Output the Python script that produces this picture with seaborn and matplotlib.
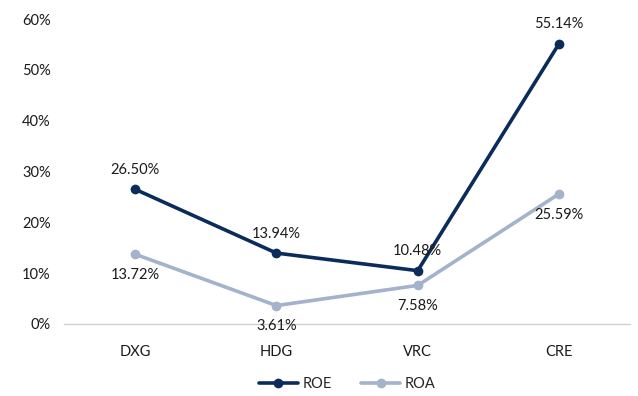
import seaborn as sns
import pandas as pd
import matplotlib.pyplot as plt
from matplotlib.ticker import PercentFormatter

companies = ["DXG", "HDG", "VRC", "CRE"]
roe = [26.50, 13.94, 10.48, 55.14]
roa = [13.72, 3.61, 7.58, 25.59]

colors = {"ROE": "#0b2c5a", "ROA": "#a3b3cb"}

sns.set_style("white")
plt.rcParams['font.family'] = ['Lato', 'DejaVu Sans']

df = pd.DataFrame({
    "company": companies * 2,
    "value": roe + roa,
    "metric": ["ROE"] * len(companies) + ["ROA"] * len(companies),
})

fig = plt.figure(figsize=(6.38, 3.96), dpi=100)
ax = fig.add_axes([0.101, 0.182, 0.886, 0.77])

sns.lineplot(data=df, x="company", y="value", hue="metric", palette=colors,
             marker="o", markersize=7, markeredgewidth=0, linewidth=2.6,
             sort=False, ax=ax)

# data labels: ROE above, ROA below
for i, v in enumerate(roe):
    ax.annotate(f"{v:.2f}%", (i, v), xytext=(0, 9), textcoords="offset points",
                ha="center", va="bottom", fontsize=10.5, color="#1a1a1a")
for i, v in enumerate(roa):
    ax.annotate(f"{v:.2f}%", (i, v), xytext=(0, -10), textcoords="offset points",
                ha="center", va="top", fontsize=10.5, color="#1a1a1a")

ax.set_xlim(-0.5, len(companies) - 0.5)
ax.set_ylim(0, 60)
ax.set_yticks(range(0, 61, 10))
ax.yaxis.set_major_formatter(PercentFormatter(decimals=0))
ax.set_xlabel("")
ax.set_ylabel("")
ax.tick_params(axis="both", labelsize=10.5, colors="#1a1a1a", length=0)
ax.tick_params(axis="x", pad=15)
ax.tick_params(axis="y", pad=10)

for side in ["top", "right", "left"]:
    ax.spines[side].set_visible(False)
ax.spines["bottom"].set_color("#d0d0d0")
ax.spines["bottom"].set_linewidth(1)

ax.legend(loc="upper center", bbox_to_anchor=(0.5, -0.13), ncol=2, frameon=False,
          fontsize=10.5, handlelength=2.7, columnspacing=2.0, handletextpad=0.3)

fig.savefig("out.png", dpi=100)
